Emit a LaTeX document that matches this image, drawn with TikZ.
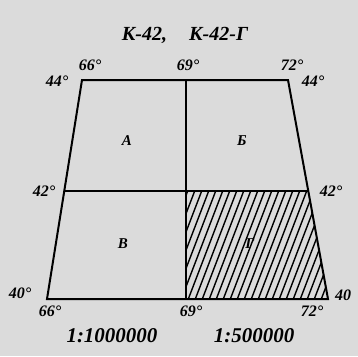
\documentclass[tikz,border=0pt]{standalone}
\usepackage{fontspec}
\setmainfont{Liberation Serif}
\begin{document}
\begin{tikzpicture}[x=1pt,y=-1pt,
  frame/.style={line width=2pt,black},
  hatch/.style={line width=1.4pt,black},
  deg/.style={font=\bfseries\itshape\fontsize{16}{16}\selectfont,inner sep=0pt},
  cell/.style={font=\bfseries\itshape\fontsize{15}{15}\selectfont,inner sep=0pt},
  big/.style={font=\bfseries\itshape\fontsize{20}{20}\selectfont,inner sep=0pt},
  scl/.style={font=\bfseries\itshape\fontsize{21}{21}\selectfont,inner sep=0pt}]
\fill[gray!28] (0,0) rectangle (358,356);
\useasboundingbox (0,0) rectangle (358,356);
% corners
\coordinate (tl) at (82,80);
\coordinate (tm) at (186,80);
\coordinate (tr) at (288,80);
\coordinate (ml) at (64.5,191);
\coordinate (mm) at (186,191);
\coordinate (mr) at (308.5,191);
\coordinate (bl) at (47,299);
\coordinate (bm) at (186,299);
\coordinate (br) at (328,299);
% hatching
\begin{scope}
\clip (mm) -- (mr) -- (br) -- (bm) -- cycle;
\foreach \x in {130,137,...,340}{
  \draw[hatch] (\x,305) -- (\x+46,185);
}
\end{scope}
% frame
\draw[frame] (tl) -- (tr) -- (br) -- (bl) -- cycle;
\draw[frame] (tm) -- (bm);
\draw[frame] (ml) -- (mr);
% title
\node[big] (title) at (185,35) {К-42,\hspace{1.1em}К-42-Г};
% degree labels
\node[deg] (d66t) at (90,65) {66°};
\node[deg] (d69t) at (188,65) {69°};
\node[deg] (d72t) at (292,65) {72°};
\node[deg] (d44l) at (57,81) {44°};
\node[deg] (d44r) at (313,81) {44°};
\node[deg] (d42l) at (44,191) {42°};
\node[deg] (d42r) at (331,191) {42°};
\node[deg] (d40l) at (20,293) {40°};
\node[deg] (d40r) at (343,295) {40};
\node[deg] (d66b) at (50,311) {66°};
\node[deg] (d69b) at (191,311) {69°};
\node[deg] (d72b) at (312,311) {72°};
% cell labels
\node[cell] (A) at (127,141) {А};
\node[cell] (B) at (242,141) {Б};
\node[cell] (V) at (123,244) {В};
\node[cell] (G) at (250,244) {Г};
% scales
\node[scl] (s1) at (112,336) {1:1000000};
\node[scl] (s2) at (254,336) {1:500000};
\end{tikzpicture}
\end{document}
